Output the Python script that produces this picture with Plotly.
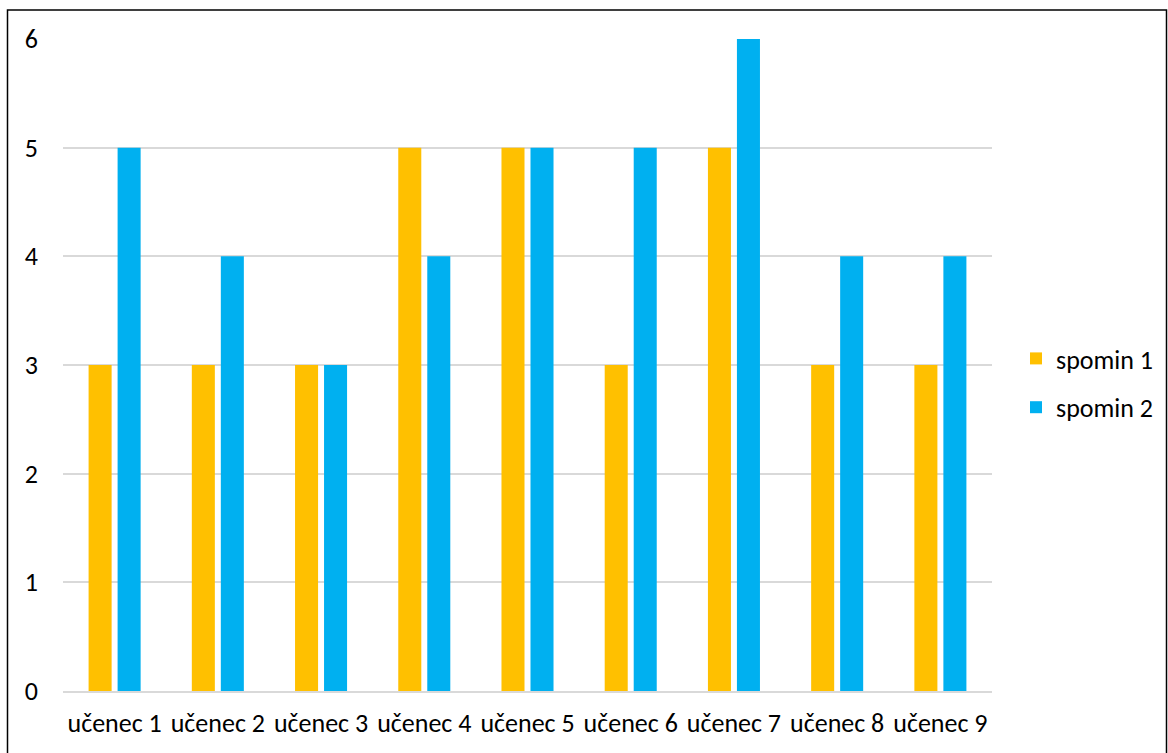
import plotly.graph_objects as go

categories = ["učenec 1", "učenec 2", "učenec 3", "učenec 4", "učenec 5",
              "učenec 6", "učenec 7", "učenec 8", "učenec 9"]
spomin_1 = [3, 3, 3, 5, 5, 3, 5, 3, 3]
spomin_2 = [5, 4, 3, 4, 5, 5, 6, 4, 4]
y_ticks = [0, 1, 2, 3, 4, 5, 6]

FONT = "Carlito, Calibri, Lato, sans-serif"
FS = 26

fig = go.Figure()
fig.add_trace(go.Bar(x=categories, y=spomin_1, name="spomin 1",
                     marker=dict(color="#FFC000", line=dict(width=0)),
                     legendgroup="a"))
fig.add_trace(go.Bar(x=categories, y=spomin_2, name="spomin 2",
                     marker=dict(color="#00B0F0", line=dict(width=0)),
                     legendgroup="b"))

W, H = 1168, 753
L, R, T, B = 63, 176, 39, 62
pw, ph = W - L - R, H - T - B

def px_x(x):
    return (x - L) / pw

def px_y(y):
    return (H - B - y) / ph

fig.update_layout(
    width=W, height=H,
    margin=dict(l=L, r=R, t=T, b=B, pad=0, autoexpand=False),
    paper_bgcolor="white", plot_bgcolor="white",
    barmode="group", bargap=0.438, bargroupgap=0.206,
    font=dict(family=FONT, size=FS, color="#000000"),
    legend=dict(x=px_x(1016), y=px_y(383), xanchor="left", yanchor="middle",
                font=dict(family=FONT, size=FS, color="#000000"),
                bgcolor="rgba(0,0,0,0)",
                tracegroupgap=12, itemwidth=30),
    showlegend=True,
    shapes=[dict(type="rect", xref="paper", yref="paper",
                 x0=px_x(7.5), x1=px_x(1166.5), y0=px_y(770), y1=px_y(10),
                 line=dict(color="#000000", width=1.5), fillcolor="rgba(0,0,0,0)",
                 layer="above")],
)
fig.update_xaxes(automargin=False, showgrid=False, showline=True, linecolor="#D9D9D9",
                 linewidth=1.5, ticks="", ticklabelstandoff=8,
                 tickfont=dict(family=FONT, size=FS))
fig.update_yaxes(automargin=False, range=[0, 6], tickvals=y_ticks, showgrid=True,
                 gridcolor="#D9D9D9", gridwidth=1.5, zeroline=False, showline=False,
                 ticks="", ticklabelstandoff=24, tickfont=dict(family=FONT, size=FS))

fig.write_html("out.html")
